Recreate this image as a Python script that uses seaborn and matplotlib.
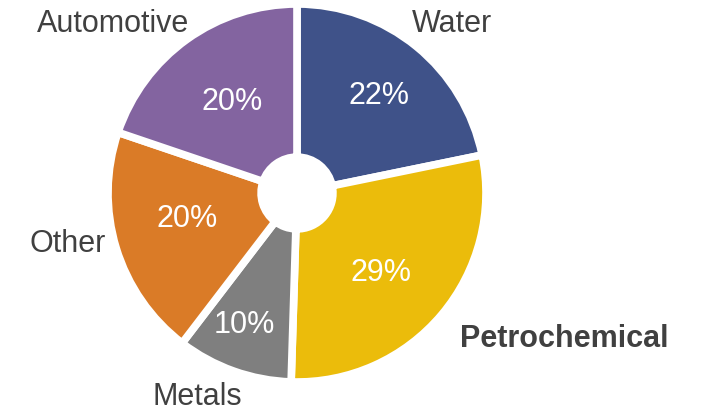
import numpy as np
import matplotlib
matplotlib.use("Agg")
import matplotlib.pyplot as plt
import seaborn as sns

# ---- data ----
sectors = ["Water", "Petrochemical", "Metals", "Other", "Automotive"]
shares = [22, 29, 10, 20, 20]
colors = ["#3F5289", "#EBBC0B", "#7F7F7F", "#DA7B27", "#8364A0"]
# per-label nudges in pixels (dx right, dy down), applied after pie placement
label_nudge = [(-19, -5), (-4, 5), (15, 8), (-2, -7), (12, -2)]
pct_nudge = [(0, 4), (-3, 6), (-6, 0), (-2, -7), (2, 3)]

sns.set_theme(style="white")
plt.rcParams["font.family"] = ["Liberation Sans", "DejaVu Sans"]

W, H, DPI = 702, 411, 100
R_PX = 189.0          # pie radius in pixels
CX, CY = 297.0, 193.0  # centre in pixels (y from top)

fig = plt.figure(figsize=(W / DPI, H / DPI), dpi=DPI)
ax = fig.add_axes([0, 0, 1, 1])

total = sum(shares)
wedges, texts, autotexts = ax.pie(
    shares, labels=sectors, colors=colors, startangle=90, counterclock=False,
    autopct=lambda p: f"{round(p * total / 100):.0f}%",
    pctdistance=0.63, labeldistance=1.1, radius=1.0,
    wedgeprops=dict(width=0.81, edgecolor="white", linewidth=5.5),
    textprops=dict(fontsize=22, color="#404040"),
)

# pie() resets limits, so place the view afterwards
ax.set_xlim(-CX / R_PX, (W - CX) / R_PX)
ax.set_ylim(-(H - CY) / R_PX, CY / R_PX)
ax.set_aspect("equal")
ax.axis("off")

for t, k in zip(texts, [1.02, 1.05, 1.0, 0.95, 0.99]):
    x, y = t.get_position()
    t.set_position((x * k, y * k))
for t, k in zip(autotexts, [1.09, 0.96, 1.18, 0.95, 0.97]):
    x, y = t.get_position()
    t.set_position((x * k, y * k))
    t.set_color("white")
    t.set_fontsize(22)

for t, (dx, dy) in zip(list(texts) + list(autotexts), label_nudge + pct_nudge):
    x, y = t.get_position()
    t.set_position((x + dx / R_PX, y - dy / R_PX))

texts[1].set_fontweight("bold")

fig.savefig("out.png", dpi=DPI, facecolor="white")
